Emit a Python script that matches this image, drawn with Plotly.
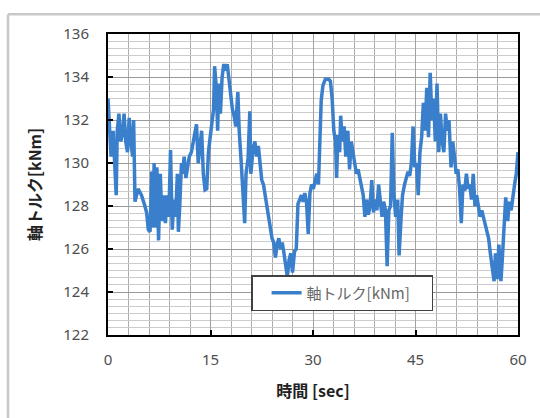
import plotly.graph_objects as go

# time [sec]
time_s = [0, 0.25, 0.45, 0.75, 1.0, 1.2, 1.35, 1.6, 1.85, 2.1, 2.35, 2.6, 2.85, 3.1, 3.35, 3.6, 3.75, 3.95,
          4.4, 4.9, 5.4, 5.65, 5.9, 6.15, 6.4, 6.55, 6.75, 6.9, 7.15, 7.4, 7.65, 7.9, 8.15, 8.4, 8.65, 8.9,
          9.15, 9.4, 9.65, 9.9, 10.15, 10.3, 10.5, 10.75, 10.9, 11.15, 11.4, 11.7, 11.9, 12.2, 12.45, 12.7,
          12.95, 13.2, 13.45, 13.7, 13.95, 14.2, 14.45, 14.7, 14.95, 15.2, 15.45, 15.6, 15.85, 16.05, 16.2,
          16.45, 16.7, 16.95, 17.2, 17.45, 17.7, 17.95, 18.2, 18.45, 18.7, 19.0, 19.2, 19.5, 19.7, 20.0,
          20.2, 20.5, 20.75, 20.9, 21.25, 21.5, 21.75, 22.0, 22.25, 22.5, 22.75, 23.0, 23.25, 23.5, 23.75,
          24.0, 24.25, 24.5, 24.75, 25.0, 25.25, 25.5, 25.75, 26.0, 26.25, 26.5, 26.75, 27.0, 27.3, 27.55,
          27.8, 28.05, 28.3, 28.55, 28.8, 29.05, 29.3, 29.55, 29.8, 30.05, 30.3, 30.55, 30.8, 31.05, 31.2,
          31.45, 31.8, 32.05, 32.3, 32.55, 32.8, 33.05, 33.3, 33.45, 33.65, 33.9, 34.05, 34.3, 34.55, 34.8,
          35.1, 35.35, 35.6, 35.85, 36.1, 36.35, 36.6, 36.85, 37.1, 37.35, 37.6, 37.85, 38.1, 38.35, 38.6,
          38.85, 39.1, 39.35, 39.6, 39.85, 40.1, 40.35, 40.6, 40.85, 41.1, 41.35, 41.6, 41.85, 42.1, 42.4,
          42.6, 42.9, 43.1, 43.4, 43.65, 43.9, 44.15, 44.4, 44.65, 44.9, 45.15, 45.4, 45.65, 45.9, 46.15,
          46.4, 46.65, 46.9, 47.15, 47.4, 47.65, 47.9, 48.15, 48.4, 48.65, 48.9, 49.15, 49.4, 49.65, 49.9,
          50.2, 50.45, 50.7, 50.95, 51.2, 51.45, 51.7, 51.95, 52.2, 52.45, 52.7, 52.95, 53.2, 53.45, 53.7,
          53.95, 54.2, 54.45, 54.7, 54.95, 55.2, 55.45, 55.7, 55.95, 56.2, 56.5, 56.7, 56.95, 57.2, 57.5,
          57.7, 58.0, 58.2, 58.5, 58.7, 59.0, 59.25, 59.5, 59.75, 60.0]

# shaft torque [kNm]
torque_kNm = [133.0, 131.0, 130.3, 131.5, 130.0, 128.5, 131.5, 132.3, 131.0, 131.3, 132.3, 131.0, 130.5, 132.1,
              131.0, 130.3, 132.0, 128.2,
              128.8, 128.5, 128.0, 127.7, 126.9, 126.8, 129.6, 127.0, 130.0, 127.0, 129.8, 126.4, 129.5, 127.3,
              128.5, 127.2, 128.5, 127.5,
              130.6, 126.9, 128.3, 127.5, 129.5, 126.8, 128.0, 130.0, 129.5, 130.3, 129.3, 130.0, 130.3, 130.5,
              130.9, 131.3,
              131.8, 130.0, 131.0, 131.5, 129.5, 128.75, 128.8, 130.5, 131.2, 132.0, 132.5, 134.5, 133.5, 131.5,
              133.7,
              132.3, 134.0, 134.6, 134.3, 134.6, 133.8, 133.0, 132.5, 132.2, 131.7, 133.3, 131.5, 130.0, 129.0,
              127.2,
              129.5, 130.2, 132.4, 129.5, 130.7, 131.0, 130.3, 130.8, 130.0, 129.2, 129.0, 128.5, 128.0, 127.5,
              127.0,
              126.5, 126.3, 125.6, 126.2, 126.5, 126.0, 126.3, 125.8, 125.3, 124.7, 125.5, 125.8, 124.9, 125.9,
              126.0,
              128.1, 128.3, 128.5, 128.2, 128.6, 128.2, 126.7, 128.6, 129.0, 128.8, 129.2, 129.5, 129.0, 131.5,
              132.9,
              133.6, 133.9, 133.9, 133.9, 133.8, 133.0, 131.5, 131.0, 129.3, 131.3, 130.5, 132.2, 131.0, 131.7,
              130.3,
              131.5, 129.7, 131.0, 130.5, 130.0, 129.5, 129.7, 129.3, 129.0, 128.5, 127.5, 128.3, 127.6, 128.0,
              129.2,
              127.7, 128.3, 127.8, 129.0, 128.0, 127.5, 128.2, 127.8, 125.2, 127.8, 128.0, 131.4, 128.5, 127.5,
              128.3,
              125.7, 127.5, 128.5, 129.0, 129.3, 129.6, 129.4, 130.0, 131.7, 129.8, 130.0, 128.5, 130.5, 131.2,
              132.8,
              131.5, 133.5, 131.2, 134.2, 132.0, 133.0, 131.0, 133.7, 130.5, 132.3, 131.0, 130.5, 132.3, 131.5,
              132.0,
              129.8, 131.0, 130.3, 129.5, 129.7, 128.8, 127.2, 129.0, 128.7, 129.5, 128.8, 129.0, 128.3, 129.5,
              128.0,
              128.5, 128.0, 127.5, 127.8, 127.5, 127.2, 126.8, 126.5, 125.8, 125.2, 124.5, 125.8, 124.6, 126.2,
              124.5,
              125.5, 127.2, 128.4, 127.3, 128.2, 127.8, 128.6, 129.0, 129.5, 130.5]

x_ticks = [0, 15, 30, 45, 60]
y_ticks = [122, 124, 126, 128, 130, 132, 134, 136]

series_name = "軸トルク[kNm]"
x_title = "時間 [sec]"
y_title = "軸トルク[kNm]"

LINE_BLUE = "#3a7fcb"
TICK_GRAY = "#4d4d4d"
FONT = "Noto Sans, Noto Sans CJK JP, sans-serif"
JP_FONT = "Noto Sans CJK JP, sans-serif"

fig = go.Figure()
fig.add_trace(go.Scatter(
    x=time_s, y=torque_kNm, mode="lines", name=series_name,
    line=dict(color=LINE_BLUE, width=3.5),
))

fig.update_layout(
    width=540, height=418,
    margin=dict(l=108, r=22, t=34, b=83, autoexpand=False),
    paper_bgcolor="white", plot_bgcolor="white",
    showlegend=True,
    legend=dict(
        x=0.349, y=0.199, xanchor="left", yanchor="top",
        orientation="h", entrywidth=120, indentation=14,
        bgcolor="white", bordercolor="#404040", borderwidth=1.5,
        font=dict(family=JP_FONT, size=15, color="#666666"),
        itemwidth=30,
    ),
    font=dict(family=FONT),
)

fig.update_xaxes(
    range=[0, 60], tickvals=x_ticks, ticktext=[str(v) for v in x_ticks],
    showgrid=True, gridcolor="#a0a0a0", gridwidth=1,
    minor=dict(dtick=3, tick0=0, showgrid=True, gridcolor="#acacac", gridwidth=1, ticks=""),
    ticks="inside", ticklen=5, tickwidth=2, tickcolor="black",
    showline=True, linecolor="black", linewidth=2, mirror=True,
    tickfont=dict(family=FONT, size=15, color=TICK_GRAY),
    ticklabelstandoff=10,
    zeroline=False,
    title=dict(text=x_title, font=dict(family=JP_FONT, size=16, color="#222222", weight="bold"), standoff=18),
)

fig.update_yaxes(
    range=[122, 136], tickvals=y_ticks, ticktext=[str(v) for v in y_ticks],
    showgrid=True, gridcolor="#9a9a9a", gridwidth=1,
    minor=dict(dtick=2/6, tick0=122, showgrid=True, gridcolor="#cccccc", gridwidth=1, ticks=""),
    ticks="inside", ticklen=5, tickwidth=2, tickcolor="black",
    showline=True, linecolor="black", linewidth=2, mirror=True,
    tickfont=dict(family=FONT, size=15, color=TICK_GRAY),
    ticklabelstandoff=14,
    zeroline=False,
    title=dict(text=y_title, font=dict(family=JP_FONT, size=16, color="#222222", weight="bold"), standoff=18),
)

# light outer chart frame (left and top edges; right/bottom lie outside the view)
fig.add_shape(type="line", xref="paper", yref="paper",
              x0=-0.2439, y0=1.066, x1=1.06, y1=1.066,
              line=dict(color="#c8c8c8", width=2.5), layer="below")
fig.add_shape(type="line", xref="paper", yref="paper",
              x0=-0.2439, y0=1.066, x1=-0.2439, y1=-0.28,
              line=dict(color="#c8c8c8", width=2.5), layer="below")

fig.write_html("out.html", config={"displayModeBar": False},
               post_script="document.body.style.margin='0px';document.body.style.overflow='hidden';")
